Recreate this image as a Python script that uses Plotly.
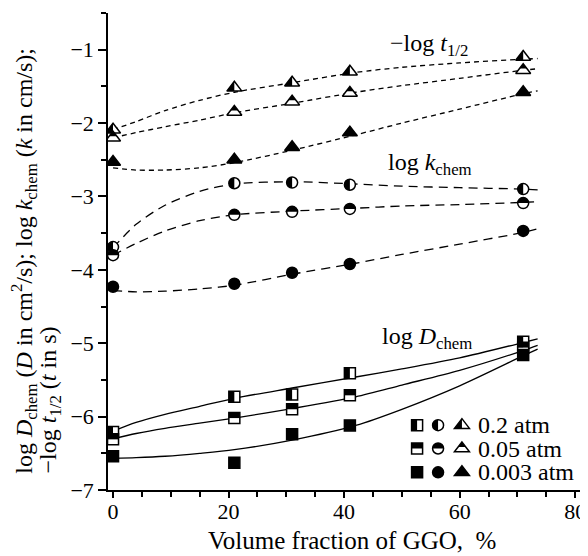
import math
import plotly.graph_objects as go

# ---------------- data ----------------
x_pts = [0, 21, 31, 41, 71]

# log D_chem (squares)
logD_02 = [-6.21, -5.73, -5.70, -5.41, -4.98]
logD_005 = [-6.31, -6.02, -5.90, -5.71, -5.06]
logD_0003 = [-6.54, -6.63, -6.24, -6.12, -5.16]

# log k_chem (circles)
logk_02 = [-3.69, -2.82, -2.81, -2.84, -2.90]
logk_005 = [-3.80, -3.25, -3.21, -3.17, -3.09]
logk_0003 = [-4.23, -4.19, -4.04, -3.92, -3.47]

# -log t_1/2 (triangles)
logt_02 = [-2.09, -1.52, -1.45, -1.30, -1.10]
logt_005 = [-2.20, -1.85, -1.71, -1.59, -1.28]
logt_0003 = [-2.53, -2.50, -2.33, -2.13, -1.58]

# fitted curves
curve_x = [0, 4, 9, 15, 21, 31, 42, 50, 60, 71, 73.5]
fitD_02 = [-6.20, -6.08, -5.97, -5.86, -5.75, -5.61, -5.46, -5.35, -5.20, -4.99, -4.94]
fitD_005 = [-6.30, -6.23, -6.16, -6.09, -6.02, -5.89, -5.73, -5.57, -5.37, -5.10, -5.03]
fitD_0003 = [-6.57, -6.56, -6.54, -6.50, -6.45, -6.32, -6.12, -5.90, -5.58, -5.17, -5.08]
fitk_02 = [-3.70, -3.38, -3.12, -2.93, -2.83, -2.80, -2.83, -2.86, -2.88, -2.90, -2.91]
fitk_005 = [-3.80, -3.64, -3.47, -3.33, -3.25, -3.20, -3.16, -3.13, -3.11, -3.08, -3.07]
fitk_0003 = [-4.28, -4.30, -4.29, -4.26, -4.21, -4.06, -3.91, -3.79, -3.65, -3.49, -3.44]
fitt_02 = [-2.09, -1.98, -1.83, -1.69, -1.58, -1.45, -1.31, -1.24, -1.18, -1.13, -1.12]
fitt_005 = [-2.20, -2.13, -2.05, -1.96, -1.86, -1.73, -1.58, -1.49, -1.39, -1.28, -1.26]
fitt_0003 = [-2.61, -2.64, -2.64, -2.61, -2.54, -2.37, -2.16, -2.00, -1.81, -1.60, -1.56]

pressure_labels = ["0.2 atm", "0.05 atm", "0.003 atm"]
x_ticks = [0, 20, 40, 60, 80]
y_ticks = [-7, -6, -5, -4, -3, -2, -1]

FONT = "Liberation Serif"
SQ, CI, TR = 11, 11, 13  # marker sizes (px)

fig = go.Figure()

def add_curve(y, dash):
    fig.add_trace(go.Scatter(x=curve_x, y=y, mode="lines", showlegend=False,
                             hoverinfo="skip",
                             line=dict(color="black", width=1.3, dash=dash,
                                       shape="spline", smoothing=0.8)))

for y in (fitD_02, fitD_005, fitD_0003):
    add_curve(y, "solid")
for y in (fitk_02, fitk_005, fitk_0003):
    add_curve(y, "9px,6px")
for y in (fitt_02, fitt_005, fitt_0003):
    add_curve(y, "5px,4px")

groups = [
    ("square", SQ, [logD_02, logD_005, logD_0003]),
    ("circle", CI, [logk_02, logk_005, logk_0003]),
    ("triangle-up", TR, [logt_02, logt_005, logt_0003]),
]

def half_path(sym, size, mode):
    r = size / 2.0
    if sym == "square":
        if mode == "left":
            return f"M {-r},{-r} L 0,{-r} L 0,{r} L {-r},{r} Z"
        return f"M {-r},0 L {r},0 L {r},{r} L {-r},{r} Z"
    if sym == "circle":
        k = 0.5523 * r
        if mode == "left":
            return f"M 0,{-r} C {-k},{-r} {-r},{-k} {-r},0 C {-r},{k} {-k},{r} 0,{r} Z"
        return f"M {-r},0 C {-r},{k} {-k},{r} 0,{r} C {k},{r} {r},{k} {r},0 Z"
    rt = r * 2 / math.sqrt(3)
    if mode == "left":
        return f"M {-rt},{-r/2} L 0,{-r/2} L 0,{r} Z"
    return f"M {-rt/2},{r/4} L {rt/2},{r/4} L 0,{r} Z"

def full_path(sym, size):
    r = size / 2.0
    if sym == "square":
        return f"M {-r},{-r} L {r},{-r} L {r},{r} L {-r},{r} Z"
    if sym == "circle":
        k = 0.5523 * r
        return (f"M {-r},0 C {-r},{k} {-k},{r} 0,{r} C {k},{r} {r},{k} {r},0 "
                f"C {r},{-k} {k},{-r} 0,{-r} C {-k},{-r} {-r},{-k} {-r},0 Z")
    rt = r * 2 / math.sqrt(3)
    return f"M {-rt},{-r/2} L {rt},{-r/2} L 0,{r} Z"

shapes = []
modes = ["left", "top", None]
for sym, size, series in groups:
    for i, ys in enumerate(series):
        fill = "black" if modes[i] is None else "white"
        fig.add_trace(go.Scatter(x=x_pts, y=ys, mode="markers", showlegend=False,
                                 marker=dict(symbol=sym, size=size, color=fill,
                                             line=dict(color="black", width=1.5))))
        if modes[i] is not None:
            for xv, yv in zip(x_pts, ys):
                shapes.append(dict(type="path", xref="x", yref="y",
                                   xsizemode="pixel", ysizemode="pixel",
                                   xanchor=xv, yanchor=yv,
                                   path=half_path(sym, size, modes[i]),
                                   fillcolor="black", line=dict(width=0)))

# ---------------- legend (drawn manually) ----------------
leg_rows = [0.136, 0.087, 0.037]
leg_cols = [0.648, 0.692, 0.742]
for i, yr in enumerate(leg_rows):
    for j, (sym, size, _) in enumerate(groups):
        fill = "black" if modes[i] is None else "white"
        shapes.append(dict(type="path", xref="paper", yref="paper",
                           xsizemode="pixel", ysizemode="pixel",
                           xanchor=leg_cols[j], yanchor=yr,
                           path=full_path(sym, size), fillcolor=fill,
                           line=dict(color="black", width=1.5)))
        if modes[i] is not None:
            shapes.append(dict(type="path", xref="paper", yref="paper",
                               xsizemode="pixel", ysizemode="pixel",
                               xanchor=leg_cols[j], yanchor=yr,
                               path=half_path(sym, size, modes[i]),
                               fillcolor="black", line=dict(width=0)))

annotations = []
for i, yr in enumerate(leg_rows):
    annotations.append(dict(xref="paper", yref="paper", x=0.772, y=yr,
                            xanchor="left", yanchor="middle", showarrow=False,
                            text=pressure_labels[i],
                            font=dict(family=FONT, size=24, color="black")))

label_font = dict(family=FONT, size=24, color="black")
title_font = dict(family=FONT, size=25, color="black")
annotations += [
    dict(xref="paper", yref="paper", x=0.672, y=0.933, showarrow=False,
         xanchor="center", yanchor="middle",
         text="\u2212log <i>t</i><sub>1/2</sub>", font=label_font),
    dict(xref="paper", yref="paper", x=0.675, y=0.683, showarrow=False,
         xanchor="center", yanchor="middle",
         text="log <i>k</i><sub>chem</sub>", font=label_font),
    dict(xref="paper", yref="paper", x=0.668, y=0.318, showarrow=False,
         xanchor="center", yanchor="middle",
         text="log <i>D</i><sub>chem</sub>", font=label_font),
    dict(xref="paper", yref="paper", x=0.512, y=-0.105, showarrow=False,
         xanchor="center", yanchor="middle",
         text="Volume fraction of GGO,  %", font=title_font),
    dict(xref="paper", yref="paper", x=-0.176, y=0.03, showarrow=False,
         xanchor="center", yanchor="bottom", textangle=-90,
         text=("log <i>D</i><sub>chem</sub> (<i>D</i> in cm<sup>2</sup>/s); "
               "log <i>k</i><sub>chem</sub> (<i>k</i> in cm/s);"),
         font=dict(family=FONT, size=24, color="black")),
    dict(xref="paper", yref="paper", x=-0.121, y=0.03, showarrow=False,
         xanchor="center", yanchor="bottom", textangle=-90,
         text="\u2212log <i>t</i><sub>1/2</sub> (<i>t</i> in s)",
         font=dict(family=FONT, size=24, color="black")),
]

# the page body has an 8px margin, so the figure is 8px smaller than the window
fig.update_layout(
    width=580, height=548,
    margin=dict(l=100, r=3, t=5, b=66),
    paper_bgcolor="white", plot_bgcolor="white",
    shapes=shapes, annotations=annotations, showlegend=False,
    font=dict(family=FONT, size=22, color="black"),
)
fig.update_xaxes(range=[-0.87, 81.7], tickvals=x_ticks, ticks="outside",
                 ticklen=6, tickwidth=1.5, tickcolor="black",
                 ticklabelstandoff=-5,
                 minor=dict(dtick=5, ticks="outside", ticklen=5, tickwidth=1.5,
                            tickcolor="black"),
                 showline=True, linecolor="black", linewidth=1.5,
                 showgrid=False, zeroline=False,
                 tickfont=dict(family=FONT, size=22, color="black"))
fig.update_yaxes(range=[-7, -0.5], tickvals=y_ticks, ticks="outside",
                 ticklen=8, tickwidth=1.5, tickcolor="black",
                 minor=dict(dtick=0.5, ticks="outside", ticklen=5, tickwidth=1.5,
                            tickcolor="black"),
                 showline=True, linecolor="black", linewidth=1.5,
                 showgrid=False, zeroline=False,
                 tickfont=dict(family=FONT, size=22, color="black"))

fig.write_html("out.html")
